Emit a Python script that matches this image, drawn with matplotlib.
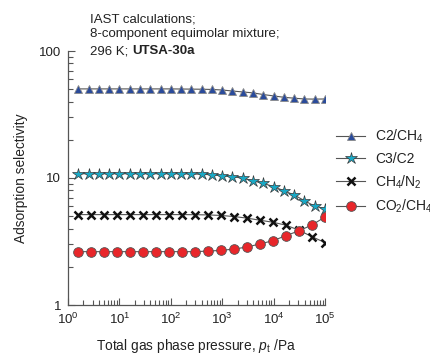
"""IAST adsorption selectivities for an 8-component equimolar mixture in UTSA-30a at 296 K."""

import matplotlib

matplotlib.use("Agg")
import matplotlib.pyplot as plt
from matplotlib.ticker import LogLocator, NullFormatter

plt.rcParams["font.family"] = ["Liberation Sans", "DejaVu Sans"]
plt.rcParams["mathtext.fontset"] = "custom"
plt.rcParams["mathtext.rm"] = "Liberation Sans"
plt.rcParams["mathtext.it"] = "Liberation Sans:italic"
plt.rcParams["mathtext.bf"] = "Liberation Sans:bold"

# total pressure, Pa (25-point grid used for C2/CH4 and C3/C2)
p_fine = [1.585, 2.512, 3.981, 6.310, 10.0, 15.85, 25.12, 39.81, 63.10, 100.0,
          158.5, 251.2, 398.1, 631.0, 1000.0, 1585.0, 2512.0, 3981.0, 6310.0,
          1.0e4, 1.585e4, 2.512e4, 3.981e4, 6.310e4, 1.0e5]
# 20-point grid used for CH4/N2 and CO2/CH4
p_coarse = [1.585, 2.84, 5.07, 9.08, 16.2, 29.1, 52.0, 93.0, 166.0, 298.0,
            532.0, 953.0, 1705.0, 3050.0, 5456.0, 9760.0, 1.746e4, 3.124e4,
            5.589e4, 1.0e5]

sel_c2_ch4 = [50.3, 50.3, 50.3, 50.3, 50.3, 50.3, 50.3, 50.3, 50.3, 50.3,
              50.2, 50.1, 50.0, 49.8, 49.3, 48.4, 47.6, 46.8, 45.4, 44.3,
              43.2, 42.5, 41.9, 41.8, 41.9]
sel_c3_c2 = [10.8, 10.8, 10.8, 10.8, 10.8, 10.8, 10.8, 10.8, 10.8, 10.8,
             10.8, 10.75, 10.7, 10.6, 10.4, 10.25, 9.95, 9.5, 9.08, 8.55,
             7.94, 7.35, 6.63, 6.0, 5.75]
sel_ch4_n2 = [5.15, 5.15, 5.15, 5.15, 5.15, 5.15, 5.15, 5.15, 5.15, 5.14,
              5.12, 5.07, 4.97, 4.83, 4.65, 4.48, 4.25, 3.88, 3.45, 3.1]
sel_co2_ch4 = [2.63, 2.63, 2.63, 2.63, 2.63, 2.63, 2.63, 2.63, 2.63, 2.63,
               2.66, 2.69, 2.76, 2.86, 3.03, 3.21, 3.52, 3.84, 4.27, 4.93]

labels = ["C2/CH$_4$", "C3/C2", "CH$_4$/N$_2$", "CO$_2$/CH$_4$"]

TEXT = "#222222"
AXIS = "#555555"
LINE = "#555555"

fig = plt.figure(figsize=(4.3, 3.56), dpi=100)
ax = fig.add_axes([68 / 430, 51 / 356, 257 / 430, 254 / 356])

ax.plot(p_fine, sel_c2_ch4, color=LINE, lw=0.8, marker="^", ms=6,
        mfc="#2a4b9b", mec="#8a8a8a", mew=0.6, label=labels[0])
ax.plot(p_fine, sel_c3_c2, color=LINE, lw=0.8, marker="*", ms=9,
        mfc="#19a9c6", mec="#3a3a3a", mew=0.5, label=labels[1])
ax.plot(p_coarse, sel_ch4_n2, color=LINE, lw=0.8, marker="x", ms=6,
        mec="#111111", mew=1.8, label=labels[2])
ax.plot(p_coarse, sel_co2_ch4, color=LINE, lw=0.8, marker="o", ms=7,
        mfc="#e8262a", mec="#555555", mew=0.6, label=labels[3])

ax.set_xscale("log")
ax.set_yscale("log")
ax.set_xlim(1, 1.0e5)
ax.set_ylim(1, 100)

ax.spines["top"].set_visible(False)
ax.spines["right"].set_visible(False)
for side in ("left", "bottom"):
    ax.spines[side].set_color(AXIS)
    ax.spines[side].set_linewidth(0.9)

ax.xaxis.set_major_locator(LogLocator(base=10, numticks=10))
ax.xaxis.set_minor_locator(LogLocator(base=10, subs=range(2, 10), numticks=10))
ax.xaxis.set_minor_formatter(NullFormatter())
ax.set_yticks([1, 10, 100])
ax.set_yticklabels(["1", "10", "100"])
ax.yaxis.set_minor_locator(LogLocator(base=10, subs=range(2, 10), numticks=10))
ax.yaxis.set_minor_formatter(NullFormatter())

ax.tick_params(which="both", direction="in", colors=AXIS, labelcolor=TEXT,
               labelsize=9.5, width=0.8)
ax.tick_params(which="major", length=5)
ax.tick_params(which="minor", length=3.5)
ax.tick_params(axis="x", which="major", pad=5)
ax.tick_params(axis="y", which="major", pad=5)

ax.set_xlabel(r"Total gas phase pressure, $p_\mathrm{t}$ /Pa", fontsize=9.9,
              color=TEXT, labelpad=7)
ax.set_ylabel("Adsorption selectivity", fontsize=9.9, color=TEXT, labelpad=8)

# annotation block above the axes
fig.text(90 / 430, 1 - 14 / 356, "IAST calculations;\n8-component equimolar mixture;",
         fontsize=9.5, color=TEXT, va="top", ha="left", linespacing=1.18)
t = fig.text(90 / 430, 1 - 45 / 356, "296 K; ", fontsize=9.5, color=TEXT,
             va="top", ha="left")
ax.annotate("UTSA-30a", xy=(1, 0), xycoords=t, va="bottom", ha="left",
            fontsize=9.5, fontweight="bold", color=TEXT)

leg = fig.legend(loc="upper left", bbox_to_anchor=(336 / 430, 1 - 128 / 356),
                 frameon=False, fontsize=10, handlelength=2.1, handletextpad=0.7,
                 labelspacing=0.5, borderaxespad=0, borderpad=0)
for txt in leg.get_texts():
    txt.set_color(TEXT)

fig.savefig("out.png", dpi=100)
